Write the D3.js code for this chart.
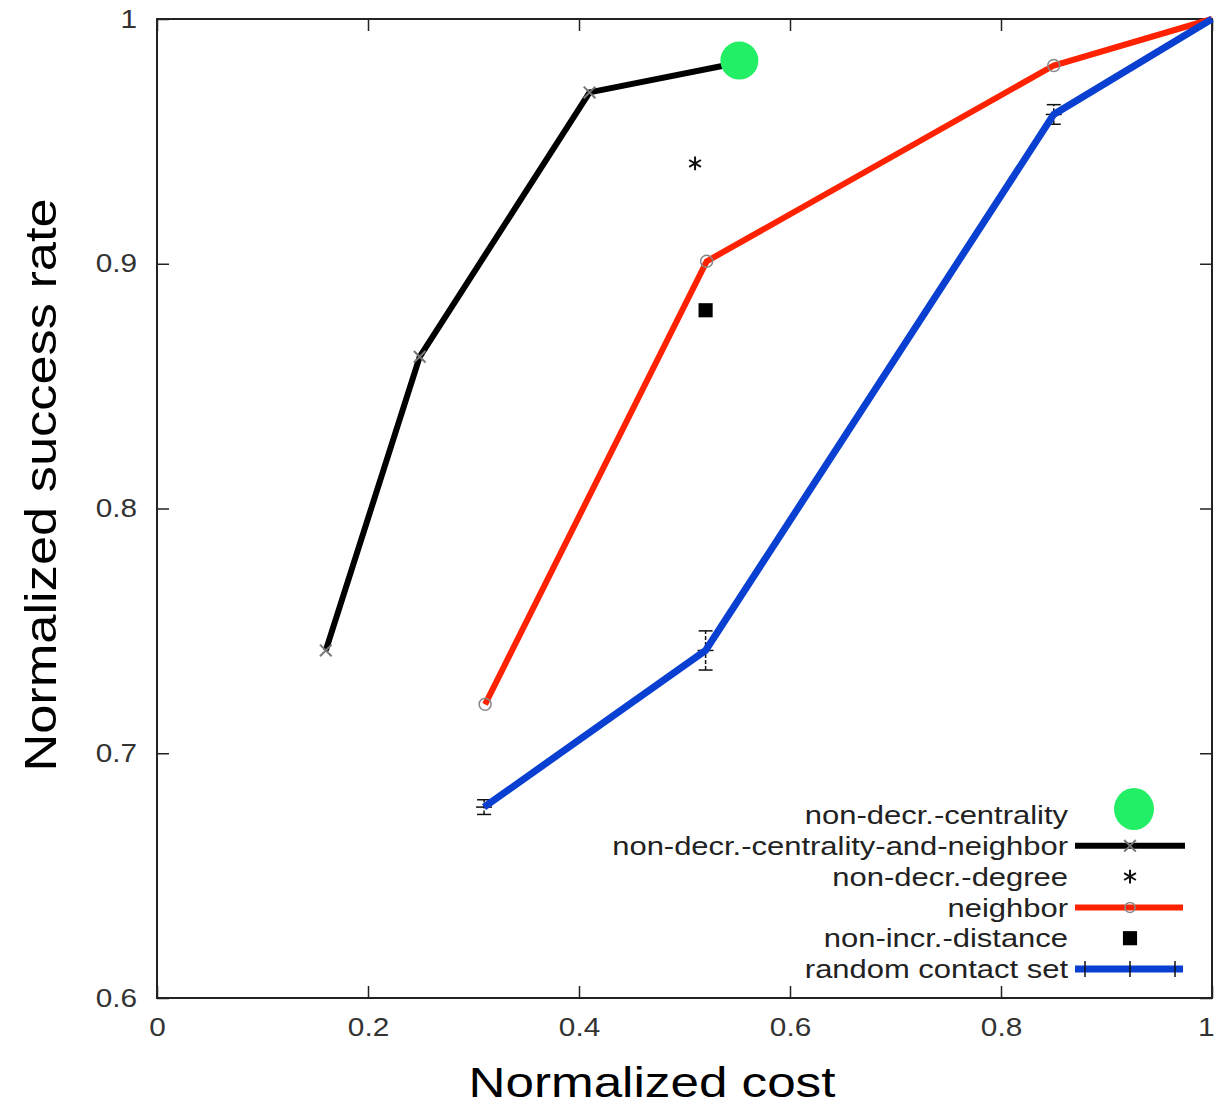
<!DOCTYPE html>
<html>
<head>
<meta charset="utf-8">
<script src="https://cdn.jsdelivr.net/npm/d3@7"></script>
<style>
  body { margin: 0; background: #fff; }
  text { font-family: "Liberation Sans", Arial, sans-serif; }
</style>
</head>
<body>
<svg id="chart" width="1216" height="1108"></svg>
<script>
const xTicks = [0, 0.2, 0.4, 0.6, 0.8, 1];
const yTicks = [0.6, 0.7, 0.8, 0.9, 1];

// series
const centrality = [{x: 0.552, y: 0.983}];
const centralityNeighbor = [
  {x: 0.16, y: 0.742}, {x: 0.249, y: 0.862}, {x: 0.41, y: 0.970}, {x: 0.55, y: 0.982}
];
const degree = [{x: 0.51, y: 0.941}];
const neighbor = [
  {x: 0.311, y: 0.720}, {x: 0.521, y: 0.901}, {x: 0.850, y: 0.981}, {x: 1, y: 1}
];
const distance = [{x: 0.52, y: 0.881}];
const randomSet = [
  {x: 0.31, y: 0.678, e: 0.003}, {x: 0.52, y: 0.742, e: 0.008},
  {x: 0.85, y: 0.961, e: 0.004}, {x: 1, y: 1, e: 0}
];
const legendNames = [
  "non-decr.-centrality", "non-decr.-centrality-and-neighbor", "non-decr.-degree",
  "neighbor", "non-incr.-distance", "random contact set"
];

const margin = {top: 19, right: 4, bottom: 110, left: 157};
const width = 1216 - margin.left - margin.right;
const height = 1108 - margin.top - margin.bottom;

const svg = d3.select("#chart");
const g = svg.append("g").attr("transform", `translate(${margin.left},${margin.top})`);

const x = d3.scaleLinear().domain([0, 1]).range([0, width]);
const y = d3.scaleLinear().domain([0.6, 1]).range([height, 0]);

// axes: inside ticks, mirrored
const fmt = d => d === 0 || d === 1 ? String(d) : d3.format(".1f")(d);
const tickStyle = sel => {
  sel.select(".domain").remove();
  sel.selectAll("line").attr("stroke", "#222").attr("stroke-width", 1.5);
  sel.selectAll("text").attr("fill", "#333").style("font-size", "25px");
};
const xAxis = g.append("g").attr("transform", `translate(0,${height})`)
  .call(d3.axisBottom(x).tickValues(xTicks).tickSize(-12).tickPadding(20).tickFormat(fmt))
  .call(tickStyle);
// last label sits on the page edge: keep it inside
xAxis.selectAll(".tick text").filter(d => d === 1).attr("text-anchor", "end").attr("dx", 2);
g.append("g")
  .call(d3.axisTop(x).tickValues(xTicks).tickSize(-12).tickFormat(""))
  .call(tickStyle);
g.append("g")
  .call(d3.axisLeft(y).tickValues(yTicks).tickSize(-12).tickPadding(20).tickFormat(fmt))
  .call(tickStyle);
g.append("g").attr("transform", `translate(${width},0)`)
  .call(d3.axisRight(y).tickValues(yTicks).tickSize(-12).tickFormat(""))
  .call(tickStyle);

g.append("rect").attr("width", width).attr("height", height)
  .attr("fill", "none").attr("stroke", "#222").attr("stroke-width", 2);

const line = d3.line().x(d => x(d.x)).y(d => y(d.y));

// thin grey underlay lines
[centralityNeighbor, neighbor, randomSet].forEach(s => {
  g.append("path").attr("d", line(s)).attr("fill", "none")
    .attr("stroke", "#999").attr("stroke-width", 1).attr("stroke-dasharray", "2,2");
});

// error bars of random contact set
const eb = g.append("g").attr("stroke", "#111").attr("stroke-width", 1.5);
randomSet.filter(d => d.e > 0).forEach(d => {
  eb.append("line").attr("x1", x(d.x)).attr("x2", x(d.x))
    .attr("y1", y(d.y - d.e)).attr("y2", y(d.y + d.e)).attr("stroke-dasharray", "4,2");
  [d.y - d.e, d.y + d.e].forEach(v => {
    eb.append("line").attr("x1", x(d.x) - 7).attr("x2", x(d.x) + 7)
      .attr("y1", y(v)).attr("y2", y(v));
  });
  eb.append("line").attr("x1", x(d.x) - 8).attr("x2", x(d.x) + 8)
    .attr("y1", y(d.y)).attr("y2", y(d.y));
});

// thick lines
g.append("path").attr("d", line(centralityNeighbor)).attr("fill", "none")
  .attr("stroke", "#000").attr("stroke-width", 6);
g.append("path").attr("d", line(neighbor)).attr("fill", "none")
  .attr("stroke", "#ff2200").attr("stroke-width", 6);
g.append("path").attr("d", line(randomSet)).attr("fill", "none")
  .attr("stroke", "#0a40d2").attr("stroke-width", 7);

// markers (X and asterisk are stroke symbols)
const cross = d3.symbol().type(d3.symbolX).size(90);
const star = d3.symbol().type(d3.symbolAsterisk).size(130);
const square = d3.symbol().type(d3.symbolSquare).size(200);

g.selectAll(".cross").data(centralityNeighbor.slice(0, 3)).join("path")
  .attr("transform", d => `translate(${x(d.x)},${y(d.y)})`)
  .attr("d", cross).attr("fill", "none").attr("stroke", "#777").attr("stroke-width", 2);
g.selectAll(".circ").data(neighbor.slice(0, 3)).join("circle")
  .attr("cx", d => x(d.x)).attr("cy", d => y(d.y)).attr("r", 6)
  .attr("fill", "none").attr("stroke", "#888").attr("stroke-width", 1.5);
g.selectAll(".star").data(degree).join("path")
  .attr("transform", d => `translate(${x(d.x)},${y(d.y)})`)
  .attr("d", star).attr("fill", "none").attr("stroke", "#111").attr("stroke-width", 2);
g.selectAll(".sq").data(distance).join("path")
  .attr("transform", d => `translate(${x(d.x)},${y(d.y)})`)
  .attr("d", square).attr("fill", "#000");
g.selectAll(".green").data(centrality).join("circle")
  .attr("cx", d => x(d.x)).attr("cy", d => y(d.y)).attr("r", 19)
  .attr("fill", "#22ee66");

// legend
const lg = svg.append("g");
const rowY = i => 815 + i * 30.8;
lg.selectAll("text").data(legendNames).join("text")
  .attr("x", 1068).attr("y", (d, i) => rowY(i)).attr("dy", "0.35em")
  .attr("text-anchor", "end").attr("fill", "#222").style("font-size", "26px")
  .text(d => d);
const sx = 1130;
lg.append("ellipse").attr("cx", 1134).attr("cy", rowY(0) - 6).attr("rx", 20).attr("ry", 21).attr("fill", "#22ee66");
lg.append("line").attr("x1", 1075).attr("x2", 1185).attr("y1", rowY(1)).attr("y2", rowY(1))
  .attr("stroke", "#000").attr("stroke-width", 6);
lg.append("path").attr("transform", `translate(${sx},${rowY(1)})`).attr("d", cross)
  .attr("fill", "none").attr("stroke", "#777").attr("stroke-width", 2);
lg.append("path").attr("transform", `translate(${sx},${rowY(2)})`).attr("d", star)
  .attr("fill", "none").attr("stroke", "#111").attr("stroke-width", 2);
lg.append("line").attr("x1", 1075).attr("x2", 1183).attr("y1", rowY(3)).attr("y2", rowY(3))
  .attr("stroke", "#ff2200").attr("stroke-width", 6);
lg.append("circle").attr("cx", sx).attr("cy", rowY(3)).attr("r", 5)
  .attr("fill", "none").attr("stroke", "#888").attr("stroke-width", 1.5);
lg.append("path").attr("transform", `translate(${sx},${rowY(4)})`).attr("d", square).attr("fill", "#000");
lg.append("line").attr("x1", 1075).attr("x2", 1183).attr("y1", rowY(5)).attr("y2", rowY(5))
  .attr("stroke", "#0a40d2").attr("stroke-width", 7);
[1085, 1130, 1175].forEach(px => {
  lg.append("line").attr("x1", px).attr("x2", px).attr("y1", rowY(5) - 8).attr("y2", rowY(5) + 8)
    .attr("stroke", "#111").attr("stroke-width", 1.5);
});

// axis titles
svg.append("text").attr("x", 652).attr("y", 1097)
  .attr("text-anchor", "middle").style("font-size", "43px").attr("fill", "#000")
  .text("Normalized cost");
svg.append("text").attr("transform", "translate(56,485) rotate(-90)")
  .attr("text-anchor", "middle").style("font-size", "44px").attr("fill", "#000")
  .text("Normalized success rate");

// the reference type runs wider than Liberation Sans: stretch every text a little
svg.selectAll("text").each(function() {
  const w = this.getComputedTextLength();
  if (w > 0) {
    this.setAttribute("textLength", w * 1.19);
    this.setAttribute("lengthAdjust", "spacingAndGlyphs");
  }
});
</script>
</body>
</html>
